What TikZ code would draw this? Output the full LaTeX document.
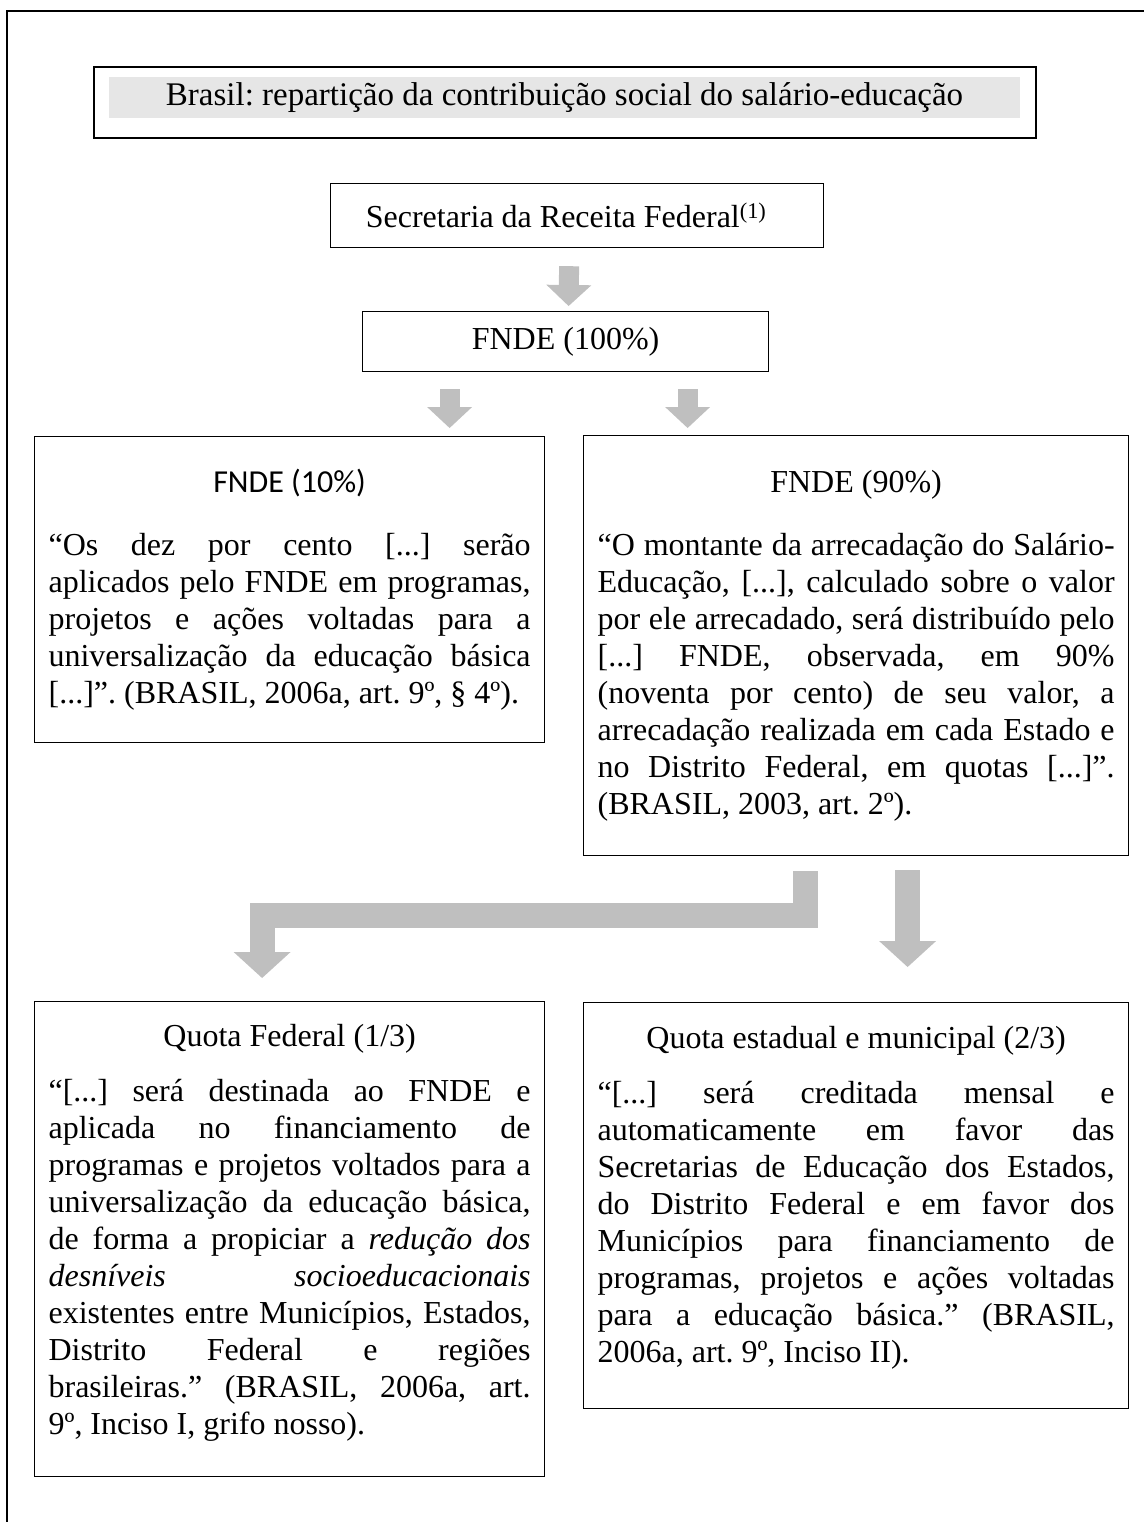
\documentclass[tikz,border=0pt]{standalone}
\usepackage{fontspec}
\setmainfont{Liberation Serif}
\newfontfamily\calibri{Carlito}
\usepackage{tikz}
\usetikzlibrary{positioning, arrows.meta, calc}
\definecolor{cinza}{HTML}{BFBFBF}
\definecolor{fundo}{HTML}{E6E6E6}
\frenchspacing

\begin{document}
\begin{tikzpicture}[x=1pt, y=-1pt,
  texto/.style={font=\fontsize{32}{37}\selectfont},
  borda/.style={draw, line width=1.2pt, inner sep=0pt},
  caixa/.style={borda, texto, anchor=north west, inner xsep=14pt, align=justify},
  seta/.style={draw=cinza, line width=20pt, -{Triangle[width=45pt, length=21pt, line width=0pt]}},
  setagrossa/.style={draw=cinza, line width=25pt, line join=miter, -{Triangle[width=57pt, length=26pt, line width=0pt]}}]

\useasboundingbox (0,0) rectangle (1143,1522);

% moldura externa
\draw[line width=1.5pt] (7,1530) -- (7,11) -- (1150,11);

% titulo
\node[borda, minimum width=942, minimum height=71] (moldura) at (565,102.5) {};
\node[font=\fontsize{33}{37}\selectfont, fill=fundo, inner sep=0pt, minimum width=911, minimum height=41] (titulo) at (564.5,97.5)
  {Brasil: repartição da contribuição social do salário-educação};

\node[borda, texto, anchor=north west, minimum width=493, minimum height=64] (srf) at (330,183)
  {Secretaria da Receita Federal\textsuperscript{(1)}\kern22pt\null};
\node[borda, texto, anchor=north west, minimum width=406, minimum height=60] (fnde) at (362,311)
  {FNDE (100\%)};

\node[caixa, text width=482, minimum height=306] (fdez) at (34,436)
  {\centerline{\calibri FNDE (10\%)}\par\vspace{26pt}\noindent
  “Os dez por cento [...] serão\linebreak
  aplicados pelo FNDE em programas,\linebreak
  projetos e ações voltadas para a\linebreak
  universalização da educação básica\linebreak\relax
  [...]”. (BRASIL, 2006a, art. 9º, § 4º).};

\node[caixa, text width=517, minimum height=420] (fnov) at (583,435)
  {\centerline{FNDE (90\%)}\par\vspace{26pt}\noindent
  “O montante da arrecadação do Salário-\linebreak
  Educação, [...], calculado sobre o valor\linebreak
  por ele arrecadado, será distribuído pelo\linebreak\relax
  [...] FNDE, observada, em 90\%\linebreak
  (noventa por cento) de seu valor, a\linebreak
  arrecadação realizada em cada Estado e\linebreak
  no Distrito Federal, em quotas [...]”.\linebreak
  (BRASIL, 2003, art. 2º).};

\node[caixa, text width=482, minimum height=475] (qfed) at (34,1001)
  {\centerline{Quota Federal (1/3)}\par\vspace{18pt}\noindent
  “[...] será destinada ao FNDE e\linebreak
  aplicada no financiamento de\linebreak
  programas e projetos voltados para a\linebreak
  universalização da educação básica,\linebreak
  de forma a propiciar a \textit{redução dos\linebreak
  desníveis socioeducacionais}\linebreak
  existentes entre Municípios, Estados,\linebreak
  Distrito Federal e regiões\linebreak
  brasileiras.” (BRASIL, 2006a, art.\linebreak
  9º, Inciso I, grifo nosso).\par\kern12pt};

\node[caixa, text width=517, minimum height=406] (qest) at (583,1002)
  {\centerline{Quota estadual e municipal (2/3)}\par\vspace{18pt}\noindent
  “[...] será creditada mensal e\linebreak
  automaticamente em favor das\linebreak
  Secretarias de Educação dos Estados,\linebreak
  do Distrito Federal e em favor dos\linebreak
  Municípios para financiamento de\linebreak
  programas, projetos e ações voltadas\linebreak
  para a educação básica.” (BRASIL,\linebreak
  2006a, art. 9º, Inciso II).\par\kern16pt};

% setas
\draw[seta] ([xshift=-8pt, yshift=-18pt]srf.south) -- ([xshift=3pt, yshift=5pt]fnde.north);
\draw[seta] ([xshift=-116pt, yshift=-17pt]fnde.south) -- ([xshift=160pt, yshift=8pt]fdez.north);
\draw[seta] ([xshift=122pt, yshift=-17pt]fnde.south) -- ([xshift=-168.5pt, yshift=7pt]fnov.north);
\draw[setagrossa] ([xshift=-50.5pt, yshift=-15pt]fnov.south) -- ++(0,44)
  -| ([xshift=-27.5pt, yshift=23pt]qfed.north);
\draw[setagrossa] ([xshift=51.5pt, yshift=-14pt]fnov.south) -- ([xshift=51.5pt, yshift=35pt]qest.north);
\end{tikzpicture}
\end{document}
